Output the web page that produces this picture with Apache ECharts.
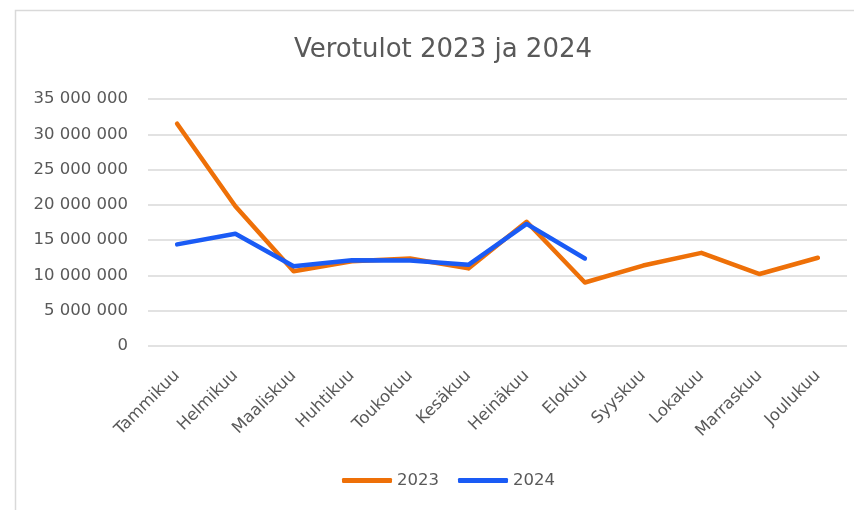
<!DOCTYPE html>
<html>
<head>
<meta charset="utf-8">
<script src="https://cdn.jsdelivr.net/npm/echarts@6/dist/echarts.min.js"></script>
<style>html,body{margin:0;padding:0;background:#fff}#c{width:854px;height:510px}</style>
</head>
<body>
<div id="c"></div>
<script>
const months = ['Tammikuu','Helmikuu','Maaliskuu','Huhtikuu','Toukokuu','Kesäkuu','Heinäkuu','Elokuu','Syyskuu','Lokakuu','Marraskuu','Joulukuu'];
const values2023 = [31500000, 19800000, 10600000, 12000000, 12400000, 11000000, 17600000, 9000000, 11400000, 13200000, 10200000, 12500000];
const values2024 = [14400000, 15900000, 11300000, 12150000, 12100000, 11500000, 17300000, 12400000];
const title = 'Verotulot 2023 ja 2024';

const font = 'DejaVu Sans';
const chart = echarts.init(document.getElementById('c'), null, {renderer: 'canvas'});
chart.setOption({
  animation: false,
  backgroundColor: '#fff',
  graphic: [{
    type: 'rect', silent: true, z: -1,
    shape: {x: 15.5, y: 10.5, width: 860, height: 520},
    style: {fill: 'none', stroke: '#d9d9d9', lineWidth: 1.5}
  }],
  title: {
    text: title, left: 443, top: 37, padding: 0, textAlign: 'center',
    textStyle: {fontFamily: font, fontSize: 26, fontWeight: 'normal', color: '#595959'}
  },
  legend: {
    top: 472, left: 342, padding: 0,
    icon: 'roundRect', itemWidth: 50, itemHeight: 5, itemGap: 19,
    textStyle: {fontFamily: font, fontSize: 16.5, color: '#595959'},
    data: ['2023', '2024']
  },
  grid: {left: 148, right: 7, top: 99, bottom: 164, containLabel: false},
  xAxis: {
    type: 'category', data: months, boundaryGap: true,
    axisLine: {show: false}, axisTick: {show: false},
    axisLabel: {rotate: 45, margin: 27, interval: 0, fontFamily: font, fontSize: 16.5, color: '#595959'}
  },
  yAxis: {
    type: 'value', min: 0, max: 35000000, interval: 5000000,
    axisLine: {show: false}, axisTick: {show: false},
    splitLine: {lineStyle: {color: '#d9d9d9', width: 1.5}},
    axisLabel: {
      margin: 20, fontFamily: font, fontSize: 16.5, color: '#595959',
      formatter: v => String(v).replace(/\B(?=(\d{3})+(?!\d))/g, ' ')
    }
  },
  series: [
    {name: '2023', type: 'line', data: values2023, showSymbol: false, symbol: 'none',
     itemStyle: {color: '#EE7008'}, lineStyle: {color: '#EE7008', width: 4.5, cap: 'round', join: 'round'}},
    {name: '2024', type: 'line', data: values2024, showSymbol: false, symbol: 'none', z: 3,
     itemStyle: {color: '#1A5BF5'}, lineStyle: {color: '#1A5BF5', width: 4.5, cap: 'round', join: 'round'}}
  ]
});
</script>
</body>
</html>
